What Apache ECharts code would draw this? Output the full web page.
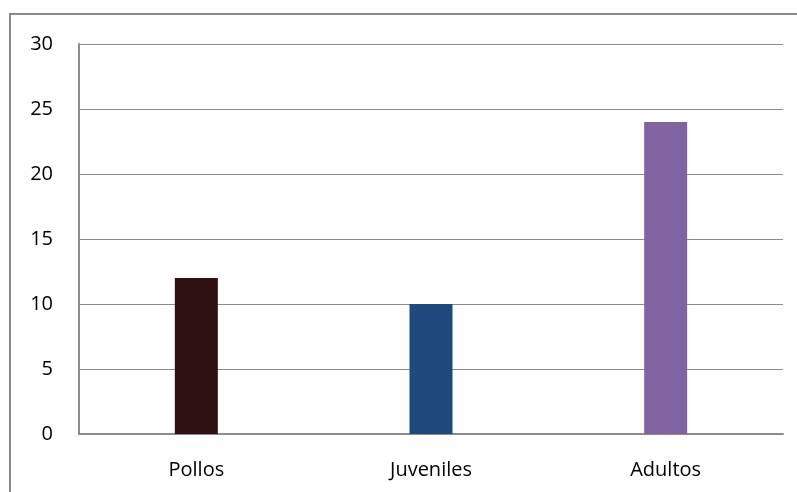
<!DOCTYPE html>
<html>
<head>
<meta charset="utf-8">
<style>
  html, body { margin: 0; padding: 0; background: #fff; }
  #chart { width: 797px; height: 492px; }
</style>
<script src="https://cdn.jsdelivr.net/npm/echarts@6/dist/echarts.min.js"></script>
</head>
<body>
<div id="chart"></div>
<script>
const categories = ['Pollos', 'Juveniles', 'Adultos'];
const values = [12, 10, 24];
const barColors = ['#2E1012', '#1F497D', '#8064A2'];
const yTicks = { min: 0, max: 30, interval: 5 };

const chart = echarts.init(document.getElementById('chart'), null, { renderer: 'canvas' });
chart.setOption({
  animation: false,
  backgroundColor: '#ffffff',
  graphic: [{
    type: 'rect',
    silent: true,
    shape: { x: 10, y: 14, width: 820, height: 520 },
    style: { fill: 'none', stroke: '#8a8a8a', lineWidth: 2 }
  }],
  grid: { left: 79, right: 14, top: 44, bottom: 58 },
  xAxis: {
    type: 'category',
    data: categories,
    axisLine: { show: true, lineStyle: { color: '#8c8c8c', width: 2 } },
    axisTick: { show: false },
    axisLabel: { color: '#000', fontFamily: 'Open Sans', fontSize: 20, margin: 26 }
  },
  yAxis: {
    type: 'value',
    min: yTicks.min,
    max: yTicks.max,
    interval: yTicks.interval,
    axisLine: { show: true, lineStyle: { color: '#8c8c8c', width: 2 } },
    axisTick: { show: false },
    splitLine: { show: true, lineStyle: { color: '#8c8c8c', width: 1 } },
    axisLabel: { color: '#000', fontFamily: 'Open Sans', fontSize: 20, margin: 26 }
  },
  series: [{
    type: 'bar',
    barWidth: 43,
    data: values.map((v, i) => ({ value: v, itemStyle: { color: barColors[i] } }))
  }]
});
</script>
</body>
</html>
